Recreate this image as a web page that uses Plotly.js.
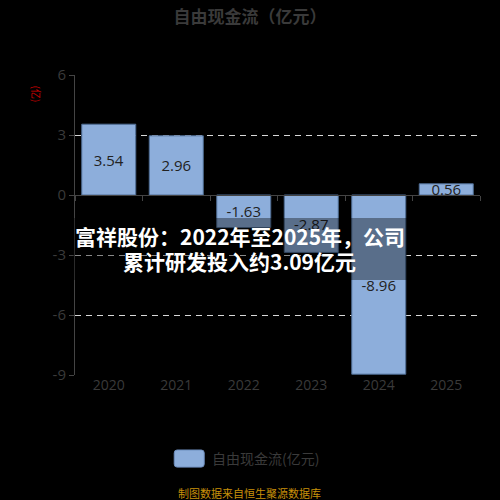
<!DOCTYPE html>
<html><head><meta charset="utf-8">
<script src="https://cdn.plot.ly/plotly-3.0.1.min.js"></script>
<style>html,body{margin:0;padding:0;background:#000;}#chart{width:500px;height:500px;}</style>
</head><body><div id="chart"></div>
<script>
const years = ['2020','2021','2022','2023','2024','2025'];
const fcf = [3.54, 2.96, -1.63, -2.87, -8.96, 0.56];
const yTicks = [6, 3, 0, -3, -6, -9];
const seriesName = '自由现金流(亿元)';
const chartTitle = '自由现金流（亿元）';
const overlayLines = ['富祥股份：2022年至2025年，公司', '累计研发投入约3.09亿元'];
const sourceText = '制图数据来自恒生聚源数据库';

const font = '"Noto Sans CJK SC", sans-serif';
const numFont = '"Open Sans", "Noto Sans", sans-serif';
const boundaries = years.slice(0, -1).map((_, i) => i + 0.5).concat([-0.5, years.length - 0.5]);

const data = [{
  type: 'bar', x: years.map((_, i) => i), y: fcf, name: seriesName,
  width: 0.8,
  marker: {color: '#8DAEDB', line: {color: '#4f6d94', width: 1}},
  text: fcf.map(v => v.toFixed(2)), textposition: 'inside', insidetextanchor: 'middle',
  constraintext: 'none', textangle: 0,
  textfont: {color: '#222', size: 15, family: numFont},
  hoverinfo: 'none', showlegend: false
}, {
  type: 'scatter', x: [0], y: [0], xaxis: 'x2', mode: 'none', showlegend: false, hoverinfo: 'none'
}];

const layout = {
  width: 500, height: 500,
  paper_bgcolor: '#000', plot_bgcolor: '#000',
  margin: {l: 75, r: 20, t: 75, b: 125},
  title: {text: chartTitle, x: 0.5, xanchor: 'center', y: 0.965, yanchor: 'middle',
          font: {size: 17, color: '#3a3a3a', family: font, weight: 'bold'}},
  bargap: 0.2,
  xaxis: {range: [-0.5, 5.5], tickmode: 'array', tickvals: years.map((_, i) => i), ticktext: years,
          showgrid: false, zeroline: false, showline: false, ticks: '',
          tickfont: {size: 14, color: '#3a3a3a', family: numFont}, fixedrange: true},
  xaxis2: {overlaying: 'x', anchor: 'free', position: 0.6, range: [-0.5, 5.5],
           tickmode: 'array', tickvals: boundaries, ticks: 'outside', ticklen: 5, tickcolor: '#444',
           showticklabels: false, showgrid: false, zeroline: false,
           showline: true, linecolor: '#444', linewidth: 1},
  yaxis: {range: [-9, 6], tickmode: 'array', tickvals: yTicks, ticktext: yTicks.map(String),
          showgrid: true, gridcolor: '#d8d8d8', griddash: '6px,5px', gridwidth: 1,
          zeroline: false, showline: true, linecolor: '#444', linewidth: 1,
          ticks: 'outside', ticklen: 5, tickcolor: '#444',
          tickfont: {size: 15, color: '#3a3a3a', family: numFont}},
  showlegend: false,
  shapes: [
    {type: 'rect', xref: 'paper', yref: 'y', x0: -0.005, x1: 0.82, y0: -1.15, y1: -4.25,
     fillcolor: 'rgba(0,0,0,0.37)', line: {width: 0}, layer: 'above'},
    {type: 'path', xref: 'paper', yref: 'paper', layer: 'above',
     path: 'M0.252,-0.25 L0.312,-0.25 Q0.319,-0.25 0.319,-0.26 L0.319,-0.297 Q0.319,-0.307 0.312,-0.307 L0.252,-0.307 Q0.245,-0.307 0.245,-0.297 L0.245,-0.26 Q0.245,-0.25 0.252,-0.25 Z',
     fillcolor: '#8DAEDB', line: {color: '#6f8fbf', width: 1}}
  ],
  annotations: [
    {text: '(亿)', xref: 'paper', yref: 'paper', x: -0.094, y: 0.935, showarrow: false, textangle: 90,
     xanchor: 'center', yanchor: 'middle',
     font: {size: 10, color: '#d00000', family: font}},
    {text: '<b>' + overlayLines[0] + '</b>', xref: 'paper', yref: 'paper', x: 0.407, y: 0.463,
     xanchor: 'center', yanchor: 'middle', showarrow: false,
     font: {size: 21, color: '#ffffff', family: font}},
    {text: '<b>' + overlayLines[1] + '</b>', xref: 'paper', yref: 'paper', x: 0.407, y: 0.38,
     xanchor: 'center', yanchor: 'middle', showarrow: false,
     font: {size: 21, color: '#ffffff', family: font}},
    {text: seriesName, xref: 'paper', yref: 'paper', x: 0.333, y: -0.278, xanchor: 'left', yanchor: 'middle',
     showarrow: false, font: {size: 14, color: '#3a3a3a', family: font}},
    {text: sourceText, xref: 'paper', yref: 'paper', x: 0.432, y: -0.393, xanchor: 'center', yanchor: 'middle',
     showarrow: false, font: {size: 11, color: '#c8900a', family: font}}
  ]
};
Plotly.newPlot('chart', data, layout, {displayModeBar: false, staticPlot: true});
</script></body></html>
